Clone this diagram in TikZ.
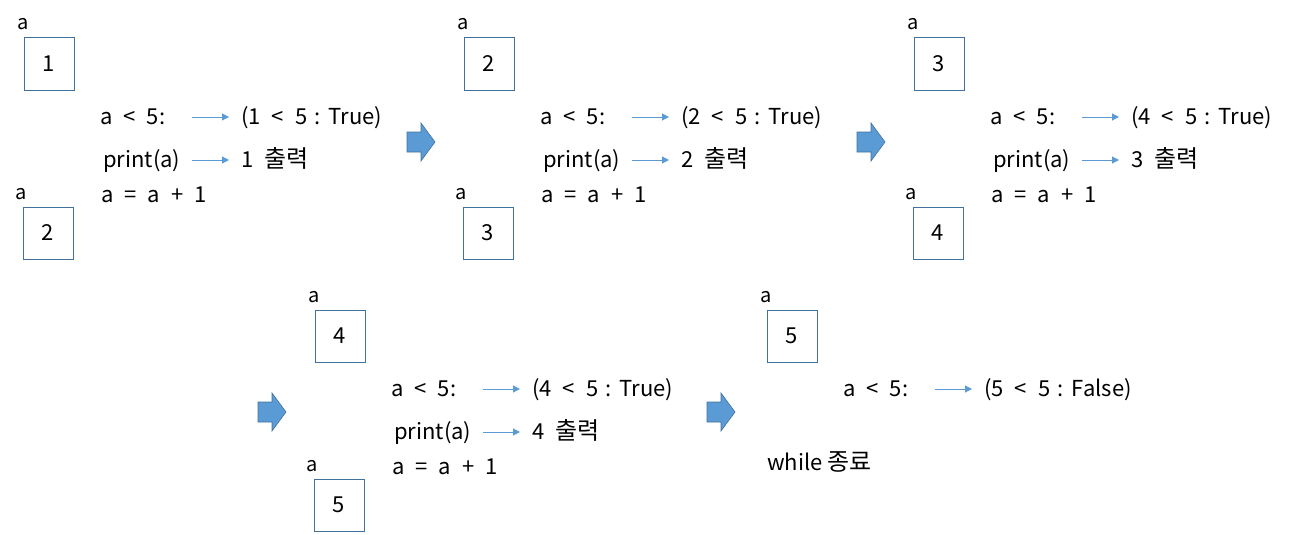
\documentclass[tikz,border=0pt]{standalone}
\usepackage{fontspec}
\setmainfont{Noto Sans CJK KR}
\usetikzlibrary{arrows.meta}
\definecolor{boxline}{HTML}{41719C}
\definecolor{arrowblue}{HTML}{5B9BD5}
\tikzset{
  valbox/.style={draw=boxline, line width=1pt, minimum width=50pt, minimum height=52pt, inner sep=0pt, font=\fontsize{22}{24}\selectfont},
  varlabel/.style={anchor=base west, inner sep=0pt, font=\fontsize{20}{22}\selectfont},
  code/.style={anchor=base west, inner sep=0pt, font=\fontsize{22}{24}\selectfont},
  flow/.style={draw=arrowblue, line width=1pt, -{Triangle[length=7pt,width=7pt]}},
  bigarrow/.style={fill=arrowblue, draw=boxline, line width=0.6pt},
}
\newcommand\Sp{\hspace{0.5em}}
\newcommand\Sc{\hspace{0.35em}}
\newcommand\Ko[1]{{\fontsize{24}{26}\selectfont #1}}
\newcommand\blockarrow[2]{%
  \path[bigarrow] (#1-14,#2-10) -- (#1,#2-10) -- (#1,#2-19) -- (#1+14,#2) -- (#1,#2+19) -- (#1,#2+10) -- (#1-14,#2+10) -- cycle;}
\newcommand\mypanel[6]{%
\begin{scope}[shift={#2}]
  \node[varlabel] (#1la) at (17,30) {a};
  \node[valbox] (#1b1) at (49,64) {#3};
  \node[varlabel] (#1lb) at (15,199) {a};
  \node[valbox] (#1b2) at (48,233) {#4};
  \node[code] (#1c1) at (100,124) {a\Sp<\Sp5:};
  \coordinate (#1s1) at (192,117);
  \coordinate (#1e1) at (229,117);
  \draw[flow] (#1s1) -- (#1e1);
  \node[code] (#1r1) at (241,124) {(#5\Sp<\Sp5\Sc:\Sc True)};
  \node[code] (#1c2) at (103,167) {print(a)};
  \coordinate (#1s2) at (192,160);
  \coordinate (#1e2) at (229,160);
  \draw[flow] (#1s2) -- (#1e2);
  \node[code] (#1r2) at (241,167) {#6\Sp\Ko{출력}};
  \node[code] (#1c3) at (101,202) {a\Sp=\Sp a\Sp+\Sp1};
\end{scope}}
\begin{document}
\begin{tikzpicture}[x=1pt,y=-1pt]
\useasboundingbox (0,0) rectangle (1290,535);
\mypanel{p}{(0,0)}{1}{2}{1}{1}
\mypanel{q}{(440,0)}{2}{3}{2}{2}
\mypanel{r}{(890,0)}{3}{4}{4}{3}
\mypanel{s}{(291,272)}{4}{5}{4}{4}
\begin{scope}[shift={(743,272)}]
  \node[varlabel] (tla) at (17,30) {a};
  \node[valbox] (tb1) at (49,64) {5};
  \node[code] (tc1) at (100,124) {a\Sp<\Sp5:};
  \coordinate (ts1) at (192,117);
  \coordinate (te1) at (229,117);
  \draw[flow] (ts1) -- (te1);
  \node[code] (tr1) at (241,124) {(5\Sp<\Sp5\Sc:\Sc False)};
  \node[code] (tw) at (24,198) {while \Ko{종료}};
\end{scope}
\blockarrow{421}{142}
\blockarrow{871}{142}
\blockarrow{272}{412}
\blockarrow{721}{412}
\end{tikzpicture}
\end{document}
